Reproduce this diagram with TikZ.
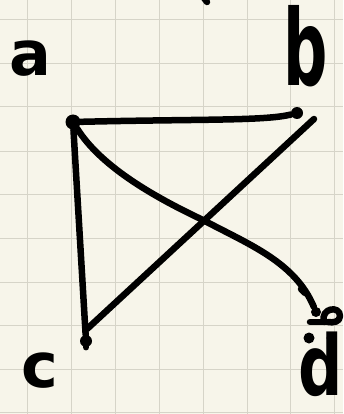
\documentclass[tikz,border=0pt]{standalone}
\usepackage{fontspec}
\setmainfont{DejaVu Sans}
\definecolor{paper}{RGB}{247,245,234}
\definecolor{gridc}{RGB}{214,212,200}
\begin{document}
\begin{tikzpicture}[x=1pt,y=-1pt,
  ink/.style={line width=6.5pt,line cap=round,line join=round,black},
  vtx/.style={circle,fill=black,inner sep=0pt,minimum size=#1},
  lbl/.style={inner sep=0pt,font=\fontsize{62}{62}\selectfont\bfseries}]
\fill[paper] (0,0) rectangle (343,414);
\useasboundingbox (0,0) rectangle (343,414);
\foreach \x in {27,71,115,159,203,247,290,334}
  \draw[gridc,line width=1pt] (\x,0) -- (\x,414);
\foreach \y in {20,63.5,107,151,194,238,282,325,369,412}
  \draw[gridc,line width=1pt] (0,\y) -- (343,\y);
% labels
\node[lbl] (la) at (30,59) {a};
\node[lbl,yscale=1.7,transform shape] (lb) at (306,46) {b};
\node[lbl] (lc) at (40,371) {c};
\node[lbl,yscale=1.35,transform shape] (ld) at (321,364) {d};
% vertices
\node[vtx=15pt] (va) at (73,122) {};
\node[vtx=12pt] (vb) at (297,113) {};
\node[vtx=12pt] (vc) at (86,341) {};
\node[vtx=10pt] (vd) at (316,312) {};
\coordinate (bs) at (314,119);
\coordinate (ce) at (87,329);
\coordinate (mid) at (203,220);
% connectors
\draw[ink] (va) .. controls (200,119) and (265,121) .. (vb);
\draw[ink] (va) -- (vc);
\draw[ink] (bs) -- (ce);
\draw[ink] (va) .. controls (100,165) and (150,195) .. (mid)
  .. controls (250,245) and (295,262) .. (vd);
\draw[ink] (vc.north) -- (vc.south);
% scribbles at d
\fill (309,338) circle (5.5pt);
\fill (330,338) circle (3.5pt);
\draw[ink] (310,322) -- (332,322);
\draw[ink] (324,322) .. controls (320,308) and (340,305) .. (340,316) .. controls (340,322) and (333,323) .. (328,322);
\draw[ink] (301,289) -- (305,293);
\draw[ink] (204,-2) -- (207,2);
\end{tikzpicture}
\end{document}
